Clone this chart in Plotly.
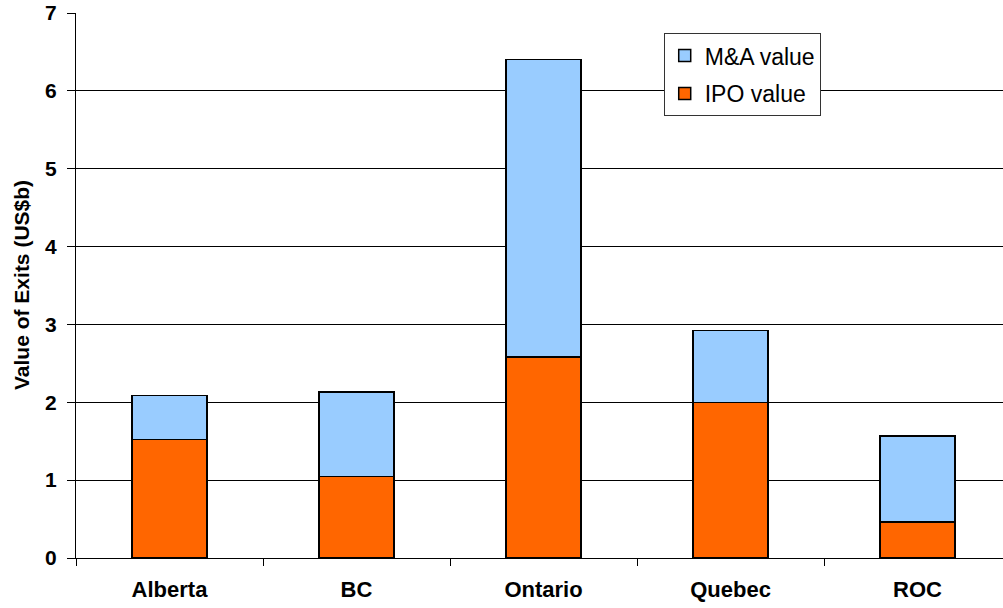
import plotly.graph_objects as go

categories = ["Alberta", "BC", "Ontario", "Quebec", "ROC"]
ipo_value = [1.52, 1.05, 2.58, 2.00, 0.46]
total_value = [2.09, 2.13, 6.40, 2.92, 1.57]
ma_value = [round(t - i, 2) for t, i in zip(total_value, ipo_value)]
y_ticks = [0, 1, 2, 3, 4, 5, 6, 7]

FONT = "Liberation Sans, Arial, sans-serif"

fig = go.Figure()
fig.add_trace(go.Bar(
    x=categories, y=ipo_value, name="IPO value", legendgroup="ipo", legendrank=2,
    marker=dict(color="#FF6600", line=dict(color="#000000", width=1.5)),
))
fig.add_trace(go.Bar(
    x=categories, y=ma_value, name="M&A value", legendgroup="ma", legendrank=1,
    marker=dict(color="#99CCFF", line=dict(color="#000000", width=1.5)),
))

fig.update_layout(
    width=1003, height=608,
    barmode="stack", bargap=0.6,
    plot_bgcolor="white", paper_bgcolor="white",
    margin=dict(l=76, r=0, t=13, b=50),
    font=dict(family=FONT, color="#000000"),
    showlegend=True,
    legend=dict(
        x=0.634, y=0.963, xanchor="left", yanchor="top",
        traceorder="grouped", tracegroupgap=5,
        bgcolor="white", bordercolor="#333333", borderwidth=1,
        font=dict(family=FONT, size=23, color="#000000"),
    ),
    xaxis=dict(
        type="category", tickson="boundaries", ticks="outside", ticklen=7,
        range=[-0.5, 4.457],
        tickcolor="#000000", showgrid=False, showline=True, linecolor="#000000",
        linewidth=1, tickfont=dict(family=FONT, size=22, color="#000000", weight="bold"),
        ticklabelstandoff=12,
    ),
    yaxis=dict(
        range=[0, 7], tickvals=y_ticks, ticks="outside", ticklen=8,
        tickcolor="#000000", showgrid=True, gridcolor="#000000", gridwidth=1,
        showline=True, linecolor="#000000", linewidth=1, zeroline=False,
        tickfont=dict(family=FONT, size=21, color="#000000", weight="bold"),
        ticklabelstandoff=6,
    ),
    annotations=[dict(
        text="Value of Exits (US$b)", xref="paper", yref="paper",
        x=-(76 - 21) / 927, y=(558 - 285) / 545, xanchor="center", yanchor="middle",
        textangle=-90, showarrow=False,
        font=dict(family=FONT, size=21, color="#000000", weight="bold"),
    )],
)

fig.write_html("out.html", config={"displayModeBar": False},
               post_script="document.body.style.margin='0px';")
